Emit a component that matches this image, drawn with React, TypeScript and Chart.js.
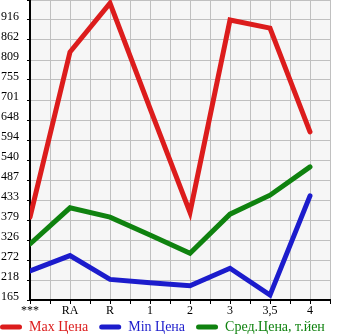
import React, { useEffect, useRef } from "react";
import { Chart, registerables } from "chart.js";

Chart.register(...registerables);

const categories = ["***", "RA", "R", "1", "2", "3", "3,5", "4"];
const maxPrice = [387, 830, 961, 679, 400, 916, 894, 616];
const minPrice = [243, 284, 220, 211, 203, 250, 178, 444];
const avgPrice = [315, 412, 387, 339, 290, 395, 446, 522];
const yTickLabels = ["165", "218", "272", "326", "379", "433", "487", "540", "594", "648", "701", "755", "809", "862", "916"];
const seriesNames = ["Max Цена", "Min Цена", "Сред.Цена, т.йен"];

const Y_MIN = 164.8;
const Y_STEP = 53.65;
const Y_MAX = Y_MIN + Y_STEP * 15;
const X_SLOTS = 15;

const COLORS = ["#dc1c1c", "#1c1ccc", "#0f820f"];
const FONT = "'Liberation Serif', 'Times New Roman', serif";

const toPoints = (arr: number[]) => arr.map((v, i) => ({ x: i * 2, y: v }));

const bgPlugin = {
  id: "plotBg",
  beforeDraw(chart: any) {
    const { ctx, chartArea } = chart;
    ctx.save();
    ctx.fillStyle = "#f6f6f6";
    ctx.fillRect(chartArea.left, chartArea.top, chartArea.right - chartArea.left, chartArea.bottom - chartArea.top);
    ctx.restore();
  },
};

const legendShift = {
  id: "legendShift",
  afterLayout(chart: any) {
    if (chart.legend) {
      chart.legend.top -= 11;
      chart.legend.bottom -= 11;
    }
  },
};

export default function App() {
  const ref = useRef<HTMLCanvasElement | null>(null);

  useEffect(() => {
    if (!ref.current) return;
    const series = [maxPrice, minPrice, avgPrice];
    const chart = new Chart(ref.current, {
      type: "line",
      data: {
        datasets: series.map((s, i) => ({
          label: seriesNames[i],
          data: toPoints(s),
          borderColor: COLORS[i],
          backgroundColor: COLORS[i],
          borderWidth: 5,
          pointRadius: 0,
          borderCapStyle: "round",
          borderJoinStyle: "miter",
          tension: 0,
          fill: false,
        })),
      },
      options: {
        animation: false,
        responsive: false,
        maintainAspectRatio: false,
        layout: { padding: 0 },
        scales: {
          x: {
            type: "linear",
            min: 0,
            max: X_SLOTS,
            afterBuildTicks: (scale: any) => {
              const t = [];
              for (let i = 0; i <= X_SLOTS; i++) t.push({ value: i });
              scale.ticks = t;
            },
            afterFit: (scale: any) => {
              scale.height = 20;
              scale.paddingLeft = 0;
              scale.paddingRight = 15;
            },
            ticks: {
              autoSkip: false,
              maxRotation: 0,
              minRotation: 0,
              padding: 0,
              color: "#000",
              font: { family: FONT, size: 12 },
              callback: (v: any) => {
                const n = Number(v);
                return n % 2 === 0 && categories[n / 2] !== undefined ? categories[n / 2] : "";
              },
            },
            grid: { color: "#c0c0c0", lineWidth: 1, tickLength: 4, tickColor: "#000", drawTicks: true },
            border: { color: "#000", width: 2 },
          },
          y: {
            type: "linear",
            min: Y_MIN,
            max: Y_MAX,
            afterBuildTicks: (scale: any) => {
              const t = [];
              for (let i = 0; i <= 15; i++) t.push({ value: Y_MIN + i * Y_STEP });
              scale.ticks = t;
            },
            afterFit: (scale: any) => {
              scale.width = 41;
              scale.paddingTop = 0;
              scale.paddingBottom = 0;
            },
            ticks: {
              padding: 8,
              labelOffset: -3,
              color: "#000",
              font: { family: FONT, size: 12 },
              callback: (_v: any, idx: number) => (yTickLabels[idx] !== undefined ? yTickLabels[idx] : ""),
            },
            grid: { color: "#c0c0c0", lineWidth: 1, tickLength: 3, tickColor: "#000" },
            border: { color: "#000", width: 2 },
          },
        },
        plugins: {
          tooltip: { enabled: false },
          legend: {
            display: true,
            position: "bottom",
            align: "start",
            labels: {
              boxWidth: 22,
              boxHeight: 5,
              padding: 11,
              useBorderRadius: true,
              borderRadius: 2.5,
              font: { family: FONT, size: 14 },
              generateLabels: (chart: any) =>
                chart.data.datasets.map((d: any, i: number) => ({
                  text: d.label,
                  fillStyle: COLORS[i],
                  strokeStyle: COLORS[i],
                  lineWidth: 0,
                  fontColor: COLORS[i],
                  borderRadius: 2.5,
                  hidden: false,
                  datasetIndex: i,
                })),
            },
          },
        },
      },
      plugins: [bgPlugin, legendShift],
    } as any);
    return () => chart.destroy();
  }, []);

  return (
    <div style={{ position: "fixed", left: -11, top: 0, width: 356, height: 355, overflow: "hidden" }}>
      <canvas ref={ref} width={356} height={355} style={{ display: "block", width: 356, height: 355 }} />
    </div>
  );
}
